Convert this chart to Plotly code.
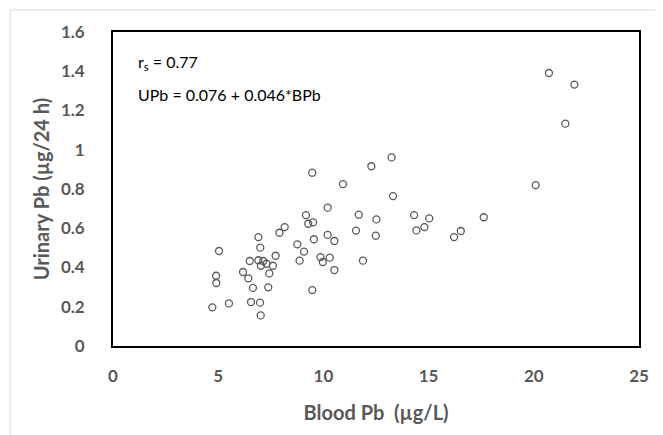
import plotly.graph_objects as go

blood_pb = [4.72, 4.90, 4.91, 5.04, 5.51, 6.18, 6.43, 6.50, 6.56, 6.65,
            6.91, 6.91, 6.99, 7.00, 7.02, 7.03, 7.14, 7.30, 7.38, 7.43,
            7.60, 7.73, 7.91, 8.16, 8.76, 8.87, 9.08, 9.17, 9.28, 9.47,
            9.47, 9.51, 9.55, 9.86, 9.97, 10.20, 10.20, 10.30, 10.52, 10.52,
            10.93, 11.55, 11.68, 11.88, 12.28, 12.49, 12.52, 13.24, 13.31, 14.31,
            14.42, 14.80, 15.03, 16.21, 16.53, 17.62, 20.09, 20.72, 21.50, 21.93]
urinary_pb = [0.197, 0.358, 0.321, 0.484, 0.217, 0.377, 0.345, 0.433, 0.224, 0.296,
              0.555, 0.437, 0.221, 0.501, 0.156, 0.409, 0.433, 0.419, 0.299, 0.370,
              0.409, 0.460, 0.577, 0.606, 0.518, 0.435, 0.481, 0.667, 0.623, 0.285,
              0.883, 0.630, 0.544, 0.453, 0.428, 0.705, 0.566, 0.450, 0.535, 0.387,
              0.825, 0.588, 0.669, 0.435, 0.916, 0.562, 0.645, 0.961, 0.764, 0.667,
              0.589, 0.606, 0.650, 0.555, 0.586, 0.656, 0.820, 1.391, 1.133, 1.332]

x_ticks = [0, 5, 10, 15, 20, 25]
y_ticks = [0, 0.2, 0.4, 0.6, 0.8, 1.0, 1.2, 1.4, 1.6]
y_tick_labels = ["0", "0.2", "0.4", "0.6", "0.8", "1", "1.2", "1.4", "1.6"]

FONT = "Lato"
GRAY = "#595959"

fig = go.Figure()
fig.add_trace(go.Scatter(
    x=blood_pb, y=urinary_pb, mode="markers",
    marker=dict(symbol="circle-open", size=7, color=GRAY, line=dict(width=1.3, color=GRAY)),
    showlegend=False, hoverinfo="skip",
))

# page body has an 8px default margin; compensate so the plot lands where the reference has it
OFF = 8
W, H = 663 - OFF, 435 - OFF
ml, mr, mt, mb = 113 - OFF, 24, 32 - OFF, 89
pw, ph = W - ml - mr, H - mt - mb

def px(xp):  # screen x -> paper x
    return (xp - OFF - ml) / pw

def py(yp):  # screen y -> paper y
    return (H - mb - (yp - OFF)) / ph

fig.update_layout(
    width=W, height=H,
    margin=dict(l=ml, r=mr, t=mt, b=mb, pad=0),
    paper_bgcolor="white", plot_bgcolor="white",
    font=dict(family=FONT, color=GRAY),
    xaxis=dict(
        range=[0, 25], tickvals=x_ticks, showgrid=False, zeroline=False,
        showline=True, mirror=True, linecolor="black", linewidth=1.8,
        ticks="", tickfont=dict(family=FONT, size=17, color=GRAY, weight="bold"),
        ticklabelstandoff=14,
        title=dict(text="Blood Pb  (µg/L)", font=dict(family=FONT, size=20, color=GRAY, weight="bold"), standoff=21),
    ),
    yaxis=dict(
        range=[0, 1.6], tickvals=y_ticks, ticktext=y_tick_labels, showgrid=False, zeroline=False,
        showline=True, mirror=True, linecolor="black", linewidth=1.8,
        ticks="", tickfont=dict(family=FONT, size=17, color=GRAY, weight="bold"),
        ticklabelstandoff=23,
        title=dict(text="Urinary Pb (µg/24 h)", font=dict(family=FONT, size=20, color=GRAY, weight="bold"), standoff=6),
    ),
    shapes=[dict(type="rect", xref="paper", yref="paper",
                 x0=px(10), x1=px(690), y0=py(10), y1=py(470),
                 line=dict(color="#d9d9d9", width=1), fillcolor="rgba(0,0,0,0)", layer="below")],
    annotations=[
        dict(text="r<sub>s</sub> = 0.77", xref="paper", yref="paper", x=px(136), y=py(63),
             xanchor="left", yanchor="middle", showarrow=False,
             font=dict(family=FONT, size=16, color="black")),
        dict(text="UPb = 0.076 + 0.046*BPb", xref="paper", yref="paper", x=px(136), y=py(95),
             xanchor="left", yanchor="middle", showarrow=False,
             font=dict(family=FONT, size=16, color="black")),
    ],
)

fig.write_html("out.html")
